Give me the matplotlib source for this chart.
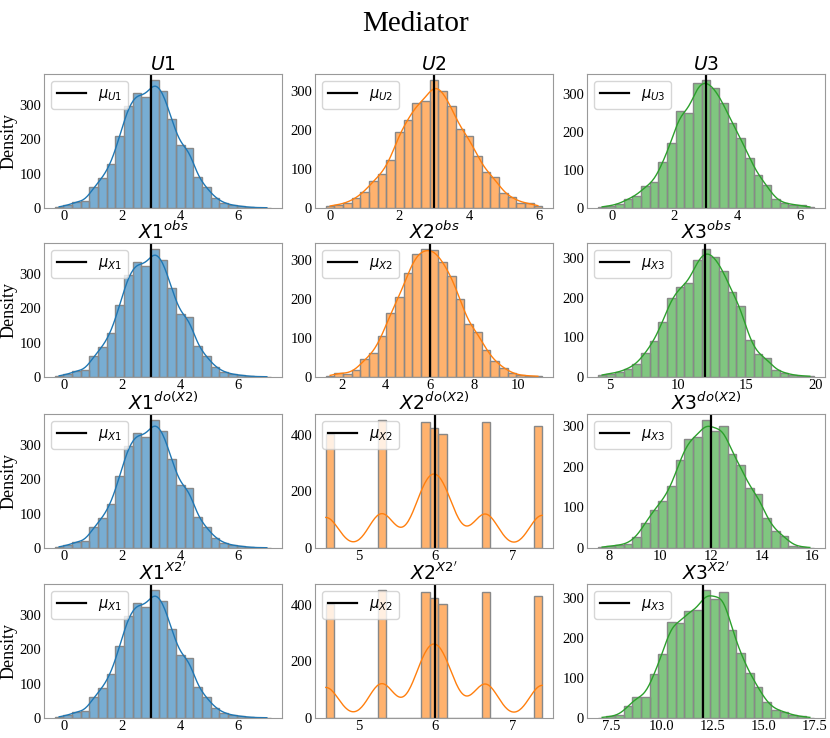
import numpy as np
import matplotlib
matplotlib.use('Agg')
import matplotlib.pyplot as plt
from matplotlib.ticker import MultipleLocator
import seaborn as sns

plt.rcParams['font.family'] = 'serif'
plt.rcParams['font.serif'] = ['Liberation Serif', 'DejaVu Serif']
plt.rcParams['mathtext.fontset'] = 'dejavusans'

# conteos de cada histograma (25 bins) y rango de los bins
u1_counts = [3, 8, 18, 20, 60, 87, 128, 208, 296, 332, 323, 370, 338, 257, 182, 173, 90, 60, 30, 15, 8, 5, 2, 1, 1]
u1_range = (-0.33, 7.16)
u2_counts = [6, 8, 14, 25, 42, 70, 88, 123, 195, 225, 269, 274, 327, 299, 261, 202, 184, 133, 93, 79, 38, 27, 14, 12, 6]
u2_range = (-0.115, 6.1)
u3_counts = [3, 6, 11, 24, 33, 57, 68, 121, 172, 257, 250, 330, 337, 316, 276, 225, 185, 133, 87, 61, 23, 13, 9, 7, 2]
u3_range = (-0.44, 6.45)

x2_obs_counts = [3, 11, 8, 19, 45, 62, 105, 164, 205, 266, 315, 326, 325, 295, 257, 200, 135, 115, 70, 41, 24, 10, 4, 3, 2]
x2_obs_range = (1.29, 11.08)
x3_obs_counts = [6, 8, 13, 21, 33, 61, 91, 139, 200, 227, 238, 296, 323, 304, 269, 214, 179, 94, 57, 48, 18, 11, 5, 3, 2]
x3_obs_range = (4.15, 19.93)

# X2 bajo intervencion: valores discretos y cuantas veces aparecen
x2_do_values = [4.574, 5.30, 5.83, 5.99, 6.14, 6.65, 7.388]
x2_do_counts = [403, 450, 443, 424, 402, 444, 430]
x2_do_range = (4.574, 7.388)
x3_do_counts = [2, 5, 7, 11, 27, 62, 95, 117, 152, 217, 269, 274, 315, 290, 302, 232, 204, 148, 133, 74, 43, 30, 6, 3, 1]
x3_do_range = (7.54, 16.07)

x3_cf_counts = [1, 4, 7, 29, 53, 53, 110, 160, 238, 236, 267, 268, 318, 296, 313, 219, 161, 113, 77, 39, 21, 16, 7, 4, 1]
x3_cf_range = (6.86, 17.46)

titles = [['$U1$', '$U2$', '$U3$'],
          ['$X1^{obs}$', '$X2^{obs}$', '$X3^{obs}$'],
          ['$X1^{do(X2)}$', '$X2^{do(X2)}$', '$X3^{do(X2)}$'],
          ["$X1^{X2'}$", "$X2^{X2'}$", "$X3^{X2'}$"]]
labels = [['$\\mu_{U1}$', '$\\mu_{U2}$', '$\\mu_{U3}$'],
          ['$\\mu_{X1}$', '$\\mu_{X2}$', '$\\mu_{X3}$'],
          ['$\\mu_{X1}$', '$\\mu_{X2}$', '$\\mu_{X3}$'],
          ['$\\mu_{X1}$', '$\\mu_{X2}$', '$\\mu_{X3}$']]
# medias (linea vertical)
row_means = [[3.0, 3.0, 3.0], [3.0, 6.0, 12.0], [3.0, 6.0, 12.0], [3.0, 6.0, 12.0]]


# Reconstruir muestras a partir de un histograma (centros de bin repetidos)
def muestras(counts, rng):
    edges = np.linspace(rng[0], rng[1], len(counts) + 1)
    centers = (edges[:-1] + edges[1:]) / 2
    return np.repeat(centers, counts), edges


x2_do = (np.repeat(x2_do_values, x2_do_counts), np.linspace(x2_do_range[0], x2_do_range[1], 26))
x1 = muestras(u1_counts, u1_range)
data = [[x1, muestras(u2_counts, u2_range), muestras(u3_counts, u3_range)],
        [x1, muestras(x2_obs_counts, x2_obs_range), muestras(x3_obs_counts, x3_obs_range)],
        [x1, x2_do, muestras(x3_do_counts, x3_do_range)],
        [x1, x2_do, muestras(x3_cf_counts, x3_cf_range)]]
xsteps = [[2, 2, 2], [2, 2, 5], [2, 1, 2], [2, 1, 2.5]]

colors = ['#1f77b4', '#ff7f0e', '#2ca02c']

W, H = 830, 738
fig = plt.figure(figsize=(W / 100, H / 100), dpi=100)
col_left = [44, 315, 587]
row_top = [74, 243, 414, 584]
ax_w, ax_h = 238, 134

for r in range(4):
    for c in range(3):
        ax = fig.add_axes([col_left[c] / W, 1 - (row_top[r] + ax_h) / H, ax_w / W, ax_h / H])
        vals, edges = data[r][c]
        sns.histplot(x=vals, bins=edges, kde=True, color=colors[c], alpha=0.6,
                     edgecolor='#888888', linewidth=1, line_kws=dict(linewidth=1), ax=ax)
        ax.axvline(row_means[r][c], color='black', linewidth=1.6, label=labels[r][c])
        ax.legend(loc='upper left', fontsize=10.5)
        ax.set_title(titles[r][c], fontsize=13.5, pad=0.5)
        ax.set_xlabel('')
        if c == 0:
            ax.set_ylabel('Density', fontsize=13, labelpad=1)
        else:
            ax.set_ylabel('')
        ax.xaxis.set_major_locator(MultipleLocator(xsteps[r][c]))
        ax.tick_params(labelsize=10.5, length=0, pad=2)
        ax.tick_params(axis='x', pad=1.5)
        for s in ax.spines.values():
            s.set_color('#999999')

fig.suptitle('Mediator', fontsize=21, y=0.985)
fig.savefig('out.png', dpi=100)
